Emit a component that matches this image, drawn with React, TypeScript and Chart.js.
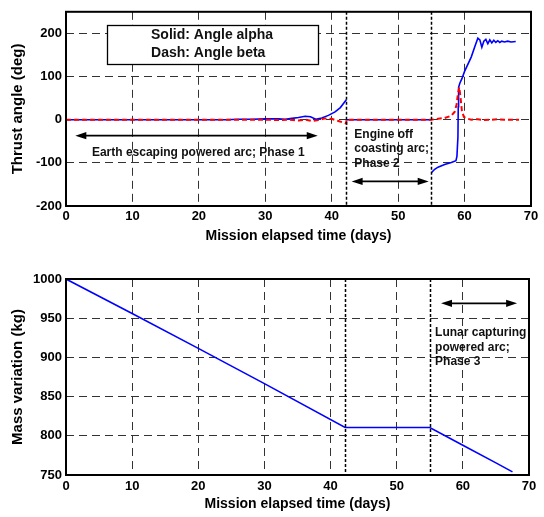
import React, { useEffect, useRef } from 'react';
import { Chart, registerables } from 'chart.js';

Chart.register(...registerables);

const FONT = "'Liberation Sans', Arial, Helvetica, sans-serif";

// ---- axes ----
const xTickStep = 10;
const xRange = [0, 70];
const angleRange = [-200, 250];
const angleTickStep = 100;
const angleTickMax = 200;
const massRange = [750, 1000];
const massTickStep = 50;

// phase boundaries (days)
const phaseBoundaries = [42.2, 55];

// ---- thrust angle alpha (solid) ----
const alphaT1 = [0, 5, 10, 15, 20, 24, 26, 28, 30, 32, 33, 34, 35, 36, 36.8, 37.6, 38.5, 39.5, 40.5, 41.3, 42.2];
const alpha1 = [0, 0, 0, 0, 0, 0, 1, 1, 2, 2, 1, 3, 5, 8, 7, 1, 4, 10, 18, 28, 46];
const alphaT2 = [42.2, 55];
const alpha2 = [0, 0];
const alphaT3 = [55, 55.5, 56, 57, 58, 58.7, 58.85, 59.0, 59.05, 59.1, 59.3, 59.6, 60, 61, 61.6, 62, 62.3, 62.6, 62.9, 63.2, 63.5, 63.8, 64.1, 64.4, 64.7, 65, 65.3, 65.6, 66, 66.5, 67, 67.7];
const alpha3 = [-123, -115, -110, -104, -99, -95, -85, -40, 30, 75, 85, 95, 112, 145, 172, 189, 185, 168, 182, 186, 176, 185, 178, 184, 179, 183, 179, 182, 180, 182, 180, 181];

// ---- thrust angle beta (dash) ----
const betaT = [0, 10, 20, 30, 32, 33.5, 35, 36, 37, 38, 39, 40, 41, 42.2, 42.2, 55, 56, 57, 58, 58.5, 58.8, 59.0, 59.2, 59.4, 59.6, 59.9, 60.5, 61, 62, 63, 64, 65, 66, 67, 68.2];
const beta = [0, 0, 0, 0, -1, 0, -2, 0, -3, -1, 3, 2, -3, -9, 0, 0, 2, 4, 9, 18, 35, 60, 75, 50, 20, 6, 2, 0, 1, -1, 0, 1, 0, 0, 0];

// ---- mass ----
const massT = [0, 10, 20, 30, 42.2, 55, 60, 65, 67.5];
const mass = [1000, 956, 911.5, 866.5, 810.5, 810.5, 788, 765.5, 754];

// ---- texts ----
const xTitle = 'Mission elapsed time (days)';
const angleTitle = 'Thrust angle (deg)';
const massTitle = 'Mass variation (kg)';
const legendLines = ['Solid: Angle alpha', 'Dash: Angle beta'];
const phase1Label = 'Earth escaping powered arc; Phase 1';
const phase2Lines = ['Engine off', 'coasting arc;', 'Phase 2'];
const phase3Lines = ['Lunar capturing', 'powered arc;', 'Phase 3'];

const zip = (t: number[], v: number[]) => t.map((x, i) => ({ x, y: v[i] as number | null }));

function arrow(ctx: CanvasRenderingContext2D, x1: number, x2: number, y: number) {
  ctx.save();
  ctx.strokeStyle = '#000';
  ctx.fillStyle = '#000';
  ctx.lineWidth = 1.8;
  ctx.setLineDash([]);
  ctx.beginPath();
  ctx.moveTo(x1 + 5, y);
  ctx.lineTo(x2 - 5, y);
  ctx.stroke();
  const L = 11, H = 3.6;
  ctx.beginPath();
  ctx.moveTo(x1, y); ctx.lineTo(x1 + L, y - H); ctx.lineTo(x1 + L, y + H); ctx.closePath(); ctx.fill();
  ctx.beginPath();
  ctx.moveTo(x2, y); ctx.lineTo(x2 - L, y - H); ctx.lineTo(x2 - L, y + H); ctx.closePath(); ctx.fill();
  ctx.restore();
}

function textLines(ctx: CanvasRenderingContext2D, lines: string[], x: number, ys: number[], size: number) {
  ctx.save();
  ctx.font = `bold ${size}px ${FONT}`;
  ctx.fillStyle = '#111';
  ctx.textAlign = 'left';
  ctx.textBaseline = 'middle';
  lines.forEach((l, i) => ctx.fillText(l, x, ys[i]));
  ctx.restore();
}

function framePlugin(id: string, extra: (chart: any) => void, under?: (chart: any) => void) {
  return {
    id,
    beforeDatasetsDraw(chart: any) {
      if (under) under(chart);
    },
    afterDraw(chart: any) {
      const { ctx, chartArea: a, scales } = chart;
      ctx.save();
      ctx.strokeStyle = '#000';
      ctx.lineWidth = 1.5;
      ctx.setLineDash([3, 2]);
      phaseBoundaries.forEach((d) => {
        const px = Math.round(scales.x.getPixelForValue(d)) + 0.5;
        ctx.beginPath();
        ctx.moveTo(px, a.top);
        ctx.lineTo(px, a.bottom);
        ctx.stroke();
      });
      ctx.restore();
      extra(chart);
      ctx.save();
      ctx.strokeStyle = '#000';
      ctx.lineWidth = 2;
      ctx.setLineDash([]);
      ctx.strokeRect(a.left, a.top, a.right - a.left, a.bottom - a.top);
      ctx.restore();
    },
  };
}

function xScale(titlePad: number, height: number, tickPad: number) {
  return {
    type: 'linear' as const,
    min: xRange[0],
    max: xRange[1],
    ticks: { stepSize: xTickStep, color: '#000', font: { size: 13, weight: 'bold' as const }, padding: tickPad, maxRotation: 0, autoSkip: false, callback: (v: any) => String(v) },
    grid: { color: '#333', lineWidth: 1, drawTicks: false },
    border: { display: false, dash: [8, 5] },
    title: { display: true, text: xTitle, color: '#000', font: { size: 14, weight: 'bold' as const }, padding: { top: 0, bottom: titlePad } },
    afterFit: (s: any) => { s.height = height; },
  };
}

function yScale(min: number, max: number, step: number, title: string, maxTick: number) {
  return {
    type: 'linear' as const,
    min,
    max,
    ticks: { stepSize: step, color: '#000', font: { size: 13, weight: 'bold' as const }, padding: 4, callback: (v: any) => String(v) },
    grid: { color: '#333', lineWidth: 1, drawTicks: false },
    border: { display: false, dash: [8, 5] },
    title: { display: true, text: title, color: '#000', font: { size: 15, weight: 'bold' as const }, padding: { top: 9, bottom: 0 } },
    afterBuildTicks: (s: any) => { s.ticks = s.ticks.filter((t: any) => t.value <= maxTick); },
    afterFit: (s: any) => { s.width = 66; },
  };
}

export default function App() {
  const topRef = useRef<HTMLCanvasElement>(null);
  const botRef = useRef<HTMLCanvasElement>(null);

  useEffect(() => {
    Chart.defaults.font.family = FONT;

    const alphaData = [
      ...zip(alphaT1, alpha1),
      { x: alphaT1[alphaT1.length - 1], y: null },
      ...zip(alphaT2, alpha2),
      { x: alphaT2[alphaT2.length - 1], y: null },
      ...zip(alphaT3, alpha3),
    ];

    const topPlugin = framePlugin(
      'topAnno',
      (chart) => {
        const { ctx, scales } = chart;
        const X = (v: number) => scales.x.getPixelForValue(v);
        const Y = (v: number) => scales.y.getPixelForValue(v);
        arrow(ctx, X(1.4), X(37.9), Y(-37));
        textLines(ctx, [phase1Label], X(3.9), [Y(-77)], 12);
        textLines(ctx, phase2Lines, X(43.4), [Y(-34), Y(-68), Y(-101)], 12);
        arrow(ctx, X(43.0), X(54.6), Y(-143));
      },
      (chart) => {
        const { ctx, scales } = chart;
        const X = (v: number) => scales.x.getPixelForValue(v);
        const Y = (v: number) => scales.y.getPixelForValue(v);
        const x1 = Math.round(X(6.2)) + 0.5, x2 = Math.round(X(38.0)) + 0.5;
        const y1 = Math.round(Y(220)) + 0.5, y2 = Math.round(Y(128)) + 0.5;
        ctx.save();
        ctx.fillStyle = '#fff';
        ctx.fillRect(x1, y1, x2 - x1, y2 - y1);
        ctx.strokeStyle = '#000';
        ctx.lineWidth = 1.3;
        ctx.setLineDash([]);
        ctx.strokeRect(x1, y1, x2 - x1, y2 - y1);
        ctx.restore();
        textLines(ctx, legendLines, X(12.8), [Y(195), Y(154)], 14);
      }
    );

    const c1 = new Chart(topRef.current as HTMLCanvasElement, {
      type: 'line',
      data: {
        datasets: [
          {
            label: 'beta',
            data: zip(betaT, beta),
            borderColor: '#ff0000',
            borderWidth: 2,
            borderDash: [5, 3],
            pointRadius: 0,
            tension: 0,
            fill: false,
          },
          {
            label: 'alpha',
            data: alphaData,
            borderColor: '#0000ff',
            borderWidth: 1.6,
            pointRadius: 0,
            tension: 0,
            fill: false,
            spanGaps: false,
          },
        ],
      },
      options: {
        responsive: false,
        animation: false,
        parsing: false as any,
        layout: { padding: { top: 9, right: 13, left: 0, bottom: 0 } },
        plugins: { legend: { display: false }, tooltip: { enabled: false } },
        scales: {
          x: xScale(5, 44, 3) as any,
          y: yScale(angleRange[0], angleRange[1], angleTickStep, angleTitle, angleTickMax) as any,
        },
      },
      plugins: [topPlugin],
    });

    const botPlugin = framePlugin('botAnno', (chart) => {
      const { ctx, scales } = chart;
      const X = (v: number) => scales.x.getPixelForValue(v);
      const Y = (v: number) => scales.y.getPixelForValue(v);
      arrow(ctx, X(56.7), X(68.2), Y(969));
      textLines(ctx, phase3Lines, X(55.8), [Y(932), Y(913), Y(895)], 12);
    });

    const c2 = new Chart(botRef.current as HTMLCanvasElement, {
      type: 'line',
      data: {
        datasets: [
          {
            label: 'mass',
            data: zip(massT, mass),
            borderColor: '#0000ff',
            borderWidth: 1.6,
            pointRadius: 0,
            tension: 0,
            fill: false,
          },
        ],
      },
      options: {
        responsive: false,
        animation: false,
        parsing: false as any,
        layout: { padding: { top: 29, right: 15, left: 0, bottom: 0 } },
        plugins: { legend: { display: false }, tooltip: { enabled: false } },
        scales: {
          x: xScale(4, 42, 4) as any,
          y: yScale(massRange[0], massRange[1], massTickStep, massTitle, massRange[1]) as any,
        },
      },
      plugins: [botPlugin],
    });

    return () => {
      c1.destroy();
      c2.destroy();
    };
  }, []);

  return (
    <div style={{ position: 'absolute', left: 0, top: 0, width: 544, height: 517, background: '#fff' }}>
      <canvas ref={topRef} width={544} height={250} style={{ position: 'absolute', left: 0, top: 0 }} />
      <canvas ref={botRef} width={544} height={267} style={{ position: 'absolute', left: 0, top: 250 }} />
    </div>
  );
}
